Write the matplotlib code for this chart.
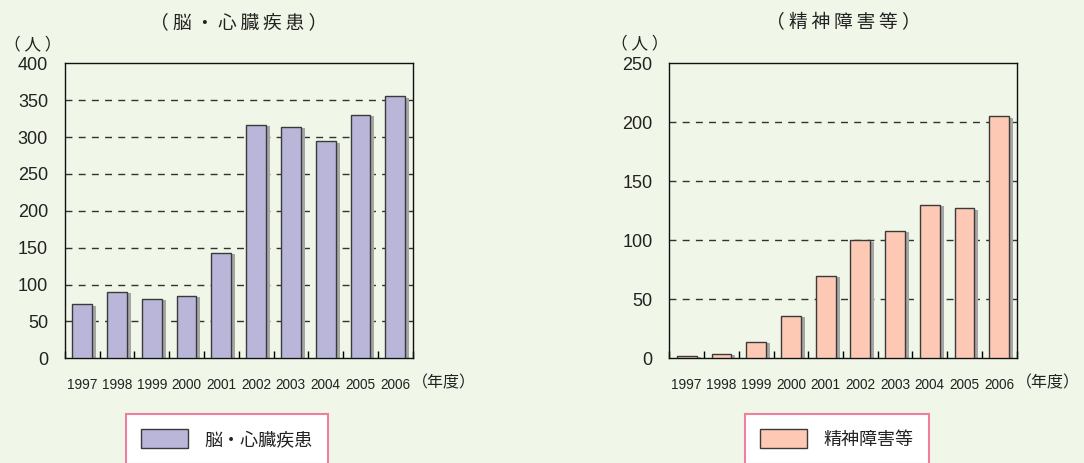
import matplotlib
matplotlib.use("Agg")
import matplotlib.pyplot as plt
from matplotlib.transforms import ScaledTranslation
import numpy as np

years = ["1997", "1998", "1999", "2000", "2001", "2002", "2003", "2004", "2005", "2006"]
brain_heart = [73, 90, 81, 85, 143, 317, 314, 294, 330, 355]
mental = [2, 4, 14, 36, 70, 100, 108, 130, 127, 205]
title_names = ["脳・心臓疾患", "精神障害等"]
legend_labels = ["脳・心臓疾患", "精神障害等"]
y_max = [400, 250]
y_ticks = [list(range(0, 401, 50)), list(range(0, 251, 50))]
unit_label = "（ 人 ）"
x_unit_label = "（年度）"

BG = "#f0f6e8"
colors = ["#b9b6da", "#fdc9b4"]
CJK = ["Noto Sans CJK JP", "DejaVu Sans"]
LAT = ["Liberation Sans", "DejaVu Sans"]

W, H = 1084, 463
fig = plt.figure(figsize=(W / 100, H / 100), dpi=100, facecolor=BG)

ax_px = [(64.7, 412.7), (669.3, 1016.7)]
top_px, bot_px = 63.3, 358.3
legend_px = [126, 745]
unit_px = [(33, 45), (640, 44)]

for i, vals in enumerate([brain_heart, mental]):
    l, r = ax_px[i]
    ax = fig.add_axes([l / W, 1 - bot_px / H, (r - l) / W, (bot_px - top_px) / H])
    ax.set_facecolor(BG)
    x = np.arange(len(years))
    # shadow bars
    sh = ax.bar(x, vals, width=0.57, color="#a6a6a6", edgecolor="none", zorder=2)
    off = ScaledTranslation(4 / 100, -1.5 / 100, fig.dpi_scale_trans)
    for p in sh:
        p.set_transform(ax.transData + off)
    ax.bar(x, vals, width=0.57, color=colors[i], edgecolor="#3a3a3a",
           linewidth=1.0, zorder=3, label=legend_labels[i])
    ax.set_xlim(-0.5, len(years) - 0.5)
    ax.set_ylim(0, y_max[i])
    ax.set_yticks(y_ticks[i])
    ax.set_xticks(x)
    ax.set_xticklabels(years, family=LAT, fontsize=9.8)
    ax.set_xticks(np.arange(-0.5, len(years), 1.0), minor=True)
    ax.tick_params(axis="x", which="major", length=0, pad=14)
    ax.tick_params(axis="x", which="minor", direction="in", length=5, width=1, color="black")
    ax.tick_params(axis="y", length=0, pad=12, labelsize=13)
    for t in ax.get_yticklabels():
        t.set_family(LAT)
        t.set_color("#222222")
    for t in ax.get_xticklabels():
        t.set_color("#222222")
    for yv in y_ticks[i][1:-1]:
        ax.axhline(yv, color="#333333", linewidth=1.0, linestyle=(0, (5, 4.5)), zorder=1)
    for s in ax.spines.values():
        s.set_color("#111111")
        s.set_linewidth(1.0)
    ax.annotate(x_unit_label, xy=(1, 0), xycoords="axes fraction",
                xytext=(-0.5, -18), textcoords="offset points", ha="left", va="center",
                family=CJK, fontsize=11.5, color="#222222")
    title = "（ " + "\u2009".join(title_names[i]) + " ）"
    fig.text((l + r) / 2 / W, 1 - 23 / H, title, ha="center", va="center",
             family=CJK, fontsize=13.5, color="#222222")
    fig.text(unit_px[i][0] / W, 1 - unit_px[i][1] / H, unit_label, ha="center", va="center",
             family=CJK, fontsize=12, color="#222222")
    leg = ax.legend(loc="upper left", bbox_to_anchor=(legend_px[i] / W, 1 - 414 / H),
                    bbox_transform=fig.transFigure, borderaxespad=0, fancybox=False,
                    framealpha=1, facecolor="white", edgecolor="#ef7f9f",
                    prop={"family": CJK, "size": 13}, handlelength=2.6, handleheight=1.25,
                    handletextpad=0.9, borderpad=0.85)
    leg.get_frame().set_linewidth(1.5)
    for t in leg.get_texts():
        t.set_color("#222222")

fig.savefig("out.png", dpi=100, facecolor=BG)
